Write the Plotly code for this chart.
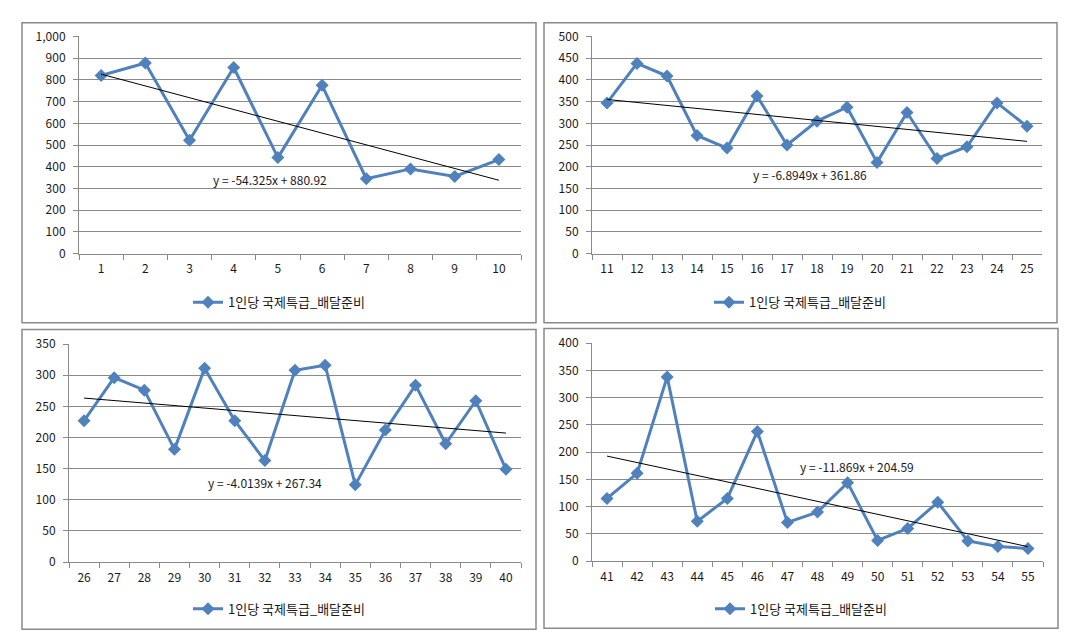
import plotly.graph_objects as go

# ---- data ----
series_name = "1인당 국제특급_배달준비"

cats1 = [str(i) for i in range(1, 11)]
vals1 = [820, 878, 522, 857, 442, 775, 345, 390, 355, 433]
cats2 = [str(i) for i in range(11, 26)]
vals2 = [347, 438, 409, 272, 243, 363, 250, 305, 337, 210, 325, 219, 246, 347, 293]
cats3 = [str(i) for i in range(26, 41)]
vals3 = [227, 296, 276, 181, 311, 227, 163, 308, 316, 124, 212, 284, 190, 259, 149]
cats4 = [str(i) for i in range(41, 56)]
vals4 = [115, 161, 338, 73, 115, 238, 71, 90, 144, 38, 60, 108, 37, 27, 23]

slopes = [-54.325, -6.8949, -4.0139, -11.869]
intercepts = [880.92, 361.86, 267.34, 204.59]

y_max = [1000, 500, 350, 400]
y_dtick = [100, 50, 50, 50]

# ---- style / layout ----
W, H = 1078, 638
BLUE = "#4F81BD"
GRID = "#8a8a8a"
TXT = "#1a1a1a"
FONT = "Noto Sans CJK KR"

def fx(px):
    return px / W

def fy(py):
    return 1 - py / H

panels = [
    dict(cats=cats1, vals=vals1, dom_x=(71, 513), dom_y=(19, 242), box=(14, 528, 5, 313), leg=(271, 292), ann=(3.81, 341)),
    dict(cats=cats2, vals=vals2, dom_x=(584, 1034), dom_y=(19, 242), box=(536, 1049, 5, 313), leg=(792, 292), ann=(6.78, 181)),
    dict(cats=cats3, vals=vals3, dom_x=(61, 513), dom_y=(335, 559), box=(14, 528, 320, 628), leg=(271, 607), ann=(6.0, 128)),
    dict(cats=cats4, vals=vals4, dom_x=(584, 1035), dom_y=(334, 558), box=(536, 1050, 319, 627), leg=(793, 607), ann=(8.3, 174)),
]

fig = go.Figure()
layout = dict(
    width=W, height=H, autosize=False,
    margin=dict(l=0, r=0, t=0, b=0),
    paper_bgcolor="white", plot_bgcolor="white",
    font=dict(family=FONT, size=12, color=TXT),
    shapes=[], annotations=[],
)

for k, p in enumerate(panels):
    n = k + 1
    xa = "x" if n == 1 else f"x{n}"
    ya = "y" if n == 1 else f"y{n}"
    legname = "legend" if n == 1 else f"legend{n}"
    xs = p["cats"]
    fig.add_trace(go.Scatter(
        x=xs, y=p["vals"], mode="lines+markers", name=series_name,
        line=dict(color=BLUE, width=3),
        marker=dict(symbol="diamond", size=10, color=BLUE),
        xaxis=xa, yaxis=ya, legend=legname, showlegend=True,
        hoverinfo="skip",
    ))
    trend = [slopes[k] * (i + 1) + intercepts[k] for i in range(len(xs))]
    fig.add_trace(go.Scatter(
        x=xs, y=trend, mode="lines", line=dict(color="black", width=1),
        xaxis=xa, yaxis=ya, showlegend=False, hoverinfo="skip",
    ))
    xkey = "xaxis" if n == 1 else f"xaxis{n}"
    ykey = "yaxis" if n == 1 else f"yaxis{n}"
    layout[xkey] = dict(
        domain=[fx(p["dom_x"][0]), fx(p["dom_x"][1])],
        anchor=ya, type="category", range=[-0.5, len(xs) - 0.5],
        showgrid=False, showline=True, linecolor=GRID, linewidth=1,
        ticks="outside", ticklen=5, tickcolor=GRID, tickson="boundaries",
        tickfont=dict(family=FONT, size=12, color=TXT),
        ticklabelstandoff=4, zeroline=False, fixedrange=True,
    )
    layout[ykey] = dict(
        domain=[fy(p["dom_y"][1]), fy(p["dom_y"][0])],
        anchor=xa, range=[0, y_max[k]], dtick=y_dtick[k], tick0=0,
        showgrid=True, gridcolor=GRID, gridwidth=1,
        showline=True, linecolor=GRID, linewidth=1,
        ticks="outside", ticklen=5, tickcolor=GRID,
        tickformat=",d", zeroline=False,
        tickfont=dict(family=FONT, size=12, color=TXT),
        ticklabelstandoff=5, fixedrange=True,
    )
    layout[legname] = dict(
        x=fx(p["leg"][0]), y=fy(p["leg"][1]), xanchor="center", yanchor="middle",
        orientation="h", bgcolor="rgba(0,0,0,0)",
        font=dict(family=FONT, size=13, color=TXT), itemwidth=30,
    )
    x0, x1, y0, y1 = p["box"]
    layout["shapes"].append(dict(
        type="rect", xref="paper", yref="paper",
        x0=fx(x0), x1=fx(x1), y0=fy(y1), y1=fy(y0),
        line=dict(color=GRID, width=1.5), fillcolor="rgba(0,0,0,0)", layer="below",
    ))
    s = slopes[k]
    b = intercepts[k]
    layout["annotations"].append(dict(
        x=p["ann"][0], y=p["ann"][1], xref=xa, yref=ya,
        text=f"y = {s}x + {b}", showarrow=False,
        font=dict(family=FONT, size=12, color=TXT),
        xanchor="center", yanchor="middle",
    ))

fig.update_layout(**layout)
fig.write_html("out.html")
